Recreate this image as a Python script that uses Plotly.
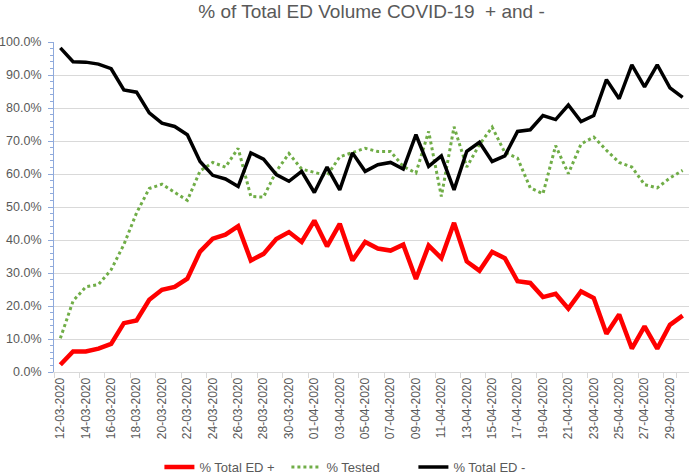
import plotly.graph_objects as go
import datetime as dt

start = dt.date(2020, 3, 12)
dates = [(start + dt.timedelta(days=i)).strftime("%d-%m-%Y") for i in range(50)]

ed_pos = [2.2, 6.2, 6.2, 7.1, 8.5, 14.8, 15.6, 21.9, 24.9, 25.8,
          28.3, 36.5, 40.4, 41.6, 44.2, 33.8, 35.8, 40.3, 42.4, 39.4,
          45.9, 38.1, 44.9, 33.8, 39.4, 37.4, 36.8, 38.6, 28.2, 38.3,
          34.5, 45.2, 33.5, 30.7, 36.4, 34.5, 27.5, 27.0, 22.7, 23.7,
          19.2, 24.4, 22.4, 11.6, 17.4, 7.1, 13.8, 7.1, 14.3, 17.1]

tested = [10.2, 21.5, 25.8, 26.5, 31.0, 38.6, 48.2, 55.6, 56.9, 54.5,
          52.0, 60.9, 63.5, 62.1, 67.8, 53.2, 53.0, 60.8, 66.2, 61.5,
          60.6, 59.5, 65.2, 66.5, 67.8, 66.8, 66.8, 62.3, 60.3, 72.9,
          53.2, 74.3, 62.1, 68.9, 74.2, 66.5, 64.8, 55.8, 54.0, 68.6,
          60.1, 69.1, 71.2, 67.2, 63.5, 62.1, 56.8, 55.8, 58.8, 61.1]

ed_neg = [98.2, 94.0, 93.9, 93.3, 91.9, 85.5, 84.8, 78.5, 75.4, 74.4,
          71.9, 63.8, 59.6, 58.5, 56.2, 66.4, 64.5, 59.8, 57.8, 60.8,
          54.4, 62.1, 55.2, 66.4, 60.8, 62.8, 63.5, 61.5, 71.9, 62.3,
          65.5, 55.2, 66.9, 69.6, 63.8, 65.5, 72.9, 73.4, 77.7, 76.5,
          80.9, 75.9, 77.7, 88.6, 82.8, 93.1, 86.4, 93.1, 86.1, 83.2]

tick_labels = dates[::2]

grey = "#595959"
font = "Liberation Sans"

fig = go.Figure()
fig.add_trace(go.Scatter(x=dates, y=[v / 100 for v in ed_pos], name="% Total ED +",
                         mode="lines", line=dict(color="#FF0000", width=4.5)))
fig.add_trace(go.Scatter(x=dates, y=[v / 100 for v in tested], name="% Tested",
                         mode="lines", line=dict(color="#70AD47", width=3, dash="dot")))
fig.add_trace(go.Scatter(x=dates, y=[v / 100 for v in ed_neg], name="% Total ED -",
                         mode="lines", line=dict(color="#000000", width=3.5)))

fig.update_layout(
    width=690, height=475,
    margin=dict(l=54, r=1, t=42, b=103, autoexpand=False),
    paper_bgcolor="white", plot_bgcolor="white",
    title=dict(text="% of Total ED Volume COVID-19  + and -", x=0.5, xanchor="center",
               xref="paper", y=0.977, yanchor="middle",
               font=dict(family=font, size=19, color=grey)),
    font=dict(family=font, color=grey),
    showlegend=True,
    legend=dict(orientation="h", x=0.466, xanchor="center", y=-0.288, yanchor="middle",
                font=dict(size=13, color=grey), itemwidth=30, traceorder="normal",
                entrywidth=82, entrywidthmode="pixels"),
    xaxis=dict(type="category", tickmode="array", tickvals=tick_labels, ticktext=tick_labels,
               tickangle=-90, tickfont=dict(size=12, color=grey), showgrid=False,
               showline=True, linecolor="#d9d9d9", linewidth=1, automargin=False,
               ticks="outside", ticklen=5, tickcolor="#d9d9d9", tickson="boundaries",
               range=[-0.5, 49.5]),
    yaxis=dict(range=[0, 1.0], dtick=0.1, tickformat=".1%", tickfont=dict(size=12.5, color=grey),
               showgrid=True, gridcolor="#d9d9d9", gridwidth=1, automargin=False,
               showline=True, linecolor="#8FAADC", linewidth=1,
               ticks="outside", ticklen=5, tickcolor="#8FAADC", ticklabelstandoff=4,
               minor=dict(dtick=0.02, ticks="outside", ticklen=3, tickcolor="#8FAADC"),
               zeroline=False),
)

fig.write_html("out.html", config={"displayModeBar": False},
               post_script="document.body.style.margin='0';")
